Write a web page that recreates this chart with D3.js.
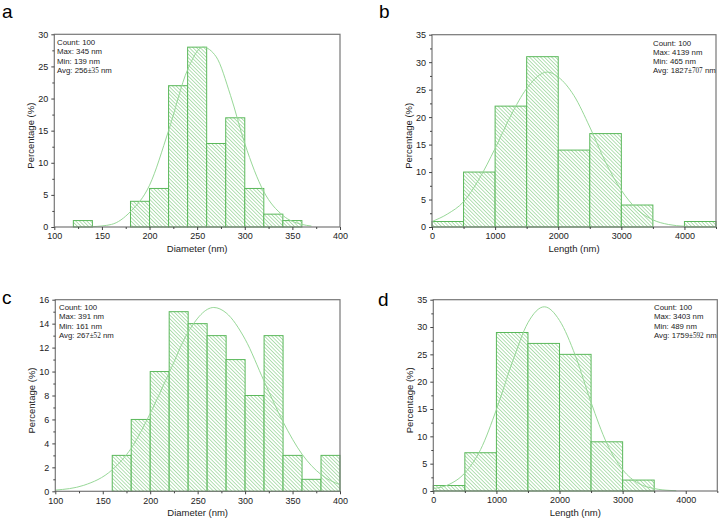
<!DOCTYPE html>
<html>
<head>
<meta charset="utf-8">
<script src="https://cdn.jsdelivr.net/npm/d3@7"></script>
<style>
  body { margin: 0; background: #fff; }
  text { font-family: 'Liberation Sans', Arial, sans-serif; }
</style>
</head>
<body>
<script>
// panel a - diameter
const aBinStart = [120, 140, 160, 180, 200, 220, 240, 260, 280, 300, 320, 340]
const aPct = [1, 0, 0, 4, 6, 22, 28, 13, 17, 6, 2, 1]
const aFitX = [140, 160, 180, 200, 220, 240, 256, 270, 285, 300, 320, 340, 360, 370]
const aFitY = [0.05, 0.4, 2.4, 6.5, 15, 24.5, 28, 26.5, 20.5, 13, 5.5, 1.8, 0.4, 0.15]
const aStats = ['Count: 100', 'Max: 345 nm', 'Min: 139 nm']
const aAvg = ['256', '±35']

// panel b - length
const bBinStart = [0, 500, 1000, 1500, 2000, 2500, 3000, 3500, 4000]
const bPct = [1, 10, 22, 31, 14, 17, 4, 0, 1]
const bFitX = [0, 250, 500, 750, 1000, 1250, 1500, 1827, 2000, 2250, 2500, 2750, 3000, 3250, 3500, 3750, 4000, 4250]
const bFitY = [1.0, 2.4, 4.6, 8.8, 14.3, 20.3, 25.2, 28.2, 27.3, 23.9, 18.2, 11.8, 6.7, 3.2, 1.3, 0.45, 0.13, 0.03]
const bStats = ['Count: 100', 'Max: 4139 nm', 'Min: 465 nm']
const bAvg = ['1827', '±707']

// panel c - diameter
const cBinStart = [160, 180, 200, 220, 240, 260, 280, 300, 320, 340, 360, 380]
const cPct = [3, 6, 10, 15, 14, 13, 11, 8, 13, 3, 1, 3]
const cFitX = [100, 130, 160, 180, 200, 220, 240, 267, 280, 300, 320, 340, 360, 380, 400]
const cFitY = [0.1, 0.5, 1.8, 3.6, 6.5, 9.9, 13.3, 15.35, 14.9, 12.7, 9.2, 5.8, 3.1, 1.4, 0.55]
const cStats = ['Count: 100', 'Max: 391 nm', 'Min: 161 nm']
const cAvg = ['267', '±52']

// panel d - length
const dBinStart = [0, 500, 1000, 1500, 2000, 2500, 3000]
const dPct = [1, 7, 29, 27, 25, 9, 2]
const dFitX = [0, 250, 500, 750, 1000, 1250, 1500, 1759, 2000, 2250, 2500, 2750, 3000, 3250, 3500, 3750, 3850]
const dFitY = [0.45, 1.2, 3.3, 7.6, 14.9, 23.5, 30.8, 33.7, 31.2, 24.8, 16.2, 8.7, 3.9, 1.4, 0.45, 0.1, 0.05]
const dStats = ['Count: 100', 'Max: 3403 nm', 'Min: 489 nm']
const dAvg = ['1759', '±592']

const W = 720, H = 522
const barStroke = '#5ab85a'
const hatchColor = '#9fd89f'
const fitColor = '#98d898'

const svg = d3.select('body')
    .append('svg')
    .attr('width', W)
    .attr('height', H)

// 斜线填充
const pat = svg.append('defs')
    .append('pattern')
    .attr('id', 'hatch')
    .attr('patternUnits', 'userSpaceOnUse')
    .attr('width', 2.6)
    .attr('height', 2.6)
    .attr('patternTransform', 'rotate(-45)')
pat.append('rect').attr('width', 2.6).attr('height', 2.6).attr('fill', '#fff')
pat.append('line')
    .attr('x1', 1.3).attr('y1', 0).attr('x2', 1.3).attr('y2', 2.6)
    .attr('stroke', hatchColor)
    .attr('stroke-width', 0.8)

function drawPanel(p) {
    const g = svg.append('g')
    const x = d3.scaleLinear().domain(p.xDomain).range([p.left, p.right])
    const y = d3.scaleLinear().domain(p.yDomain).range([p.bottom, p.top])

    // 柱子
    const bars = p.binStart.map((s, i) => ({ x0: s, x1: s + p.binW, v: p.pct[i] })).filter(d => d.v > 0)
    g.selectAll('.bar')
        .data(bars)
        .enter()
        .append('rect')
        .attr('class', 'bar')
        .attr('x', d => x(d.x0))
        .attr('y', d => y(d.v))
        .attr('width', d => x(d.x1) - x(d.x0))
        .attr('height', d => y(0) - y(d.v))
        .attr('fill', 'url(#hatch)')
        .attr('stroke', barStroke)
        .attr('stroke-width', 1)

    // 拟合曲线
    const line = d3.line()
        .x(d => x(d[0]))
        .y(d => y(d[1]))
        .curve(d3.curveMonotoneX)
    g.append('path')
        .datum(p.fitX.map((v, i) => [v, p.fitY[i]]))
        .attr('d', line)
        .attr('fill', 'none')
        .attr('stroke', fitColor)
        .attr('stroke-width', 1)

    // 边框
    g.append('rect')
        .attr('x', p.left).attr('y', p.top)
        .attr('width', p.right - p.left).attr('height', p.bottom - p.top)
        .attr('fill', 'none')
        .attr('stroke', '#777')
        .attr('stroke-width', 1.2)

    // 坐标轴
    const xAxis = d3.axisBottom(x).tickValues(p.xTicks).tickSize(3).tickSizeOuter(0).tickPadding(3).tickFormat(d3.format('d'))
    const xMinor = d3.axisBottom(x).tickValues(p.xMinor).tickSize(2).tickFormat('')
    const yAxis = d3.axisLeft(y).tickValues(p.yTicks).tickSize(3).tickSizeOuter(0).tickPadding(3)
    const yMinor = d3.axisLeft(y).tickValues(p.yMinor).tickSize(2).tickFormat('')

    const axes = [
        [xAxis, 'translate(0,' + p.bottom + ')'],
        [xMinor, 'translate(0,' + p.bottom + ')'],
        [yAxis, 'translate(' + p.left + ',0)'],
        [yMinor, 'translate(' + p.left + ',0)']
    ]
    axes.forEach(a => {
        const ag = g.append('g').attr('transform', a[1]).call(a[0])
        ag.select('.domain').remove()
        ag.selectAll('line').attr('stroke', '#444')
        ag.selectAll('text')
            .attr('fill', '#222')
            .attr('font-size', 9)
            .style('font-family', "'Liberation Sans', Arial, sans-serif")
    })

    // 轴标题
    g.append('text')
        .attr('x', (p.left + p.right) / 2)
        .attr('y', p.bottom + 25)
        .attr('text-anchor', 'middle')
        .attr('font-size', 9.5)
        .attr('fill', '#222')
        .text(p.xTitle)
    g.append('text')
        .attr('transform', 'translate(' + (p.left - 20) + ',' + ((p.top + p.bottom) / 2 + 5) + ') rotate(-90)')
        .attr('text-anchor', 'middle')
        .attr('font-size', 9.5)
        .attr('fill', '#222')
        .text('Percentage (%)')

    // 统计文字
    const st = g.append('text')
        .attr('font-size', 7.8)
        .attr('fill', '#222')
    p.stats.forEach((s, i) => {
        st.append('tspan').attr('x', p.statX).attr('y', p.statY + i * 9.3).text(s)
    })
    st.append('tspan').attr('x', p.statX).attr('y', p.statY + 3 * 9.3).text('Avg: ' + p.avg[0])
    st.append('tspan')
        .style('font-family', "'Liberation Serif', serif")
        .attr('font-size', 7.2)
        .text(p.avg[1])
    st.append('tspan').text(' nm')

    // 字母标记
    svg.append('text')
        .attr('x', p.labelX)
        .attr('y', p.labelY)
        .attr('font-size', 19)
        .attr('fill', '#000')
        .text(p.label)
}

drawPanel({
    label: 'a', labelX: 2, labelY: 18,
    left: 54.3, right: 340, top: 34.3, bottom: 227,
    xDomain: [100, 400], yDomain: [0, 30],
    xTicks: d3.range(100, 401, 50), xMinor: d3.range(125, 400, 50),
    yTicks: d3.range(0, 31, 5), yMinor: d3.range(2.5, 30, 5),
    binStart: aBinStart, binW: 20, pct: aPct, fitX: aFitX, fitY: aFitY,
    xTitle: 'Diameter (nm)', stats: aStats, avg: aAvg, statX: 57, statY: 45
})

drawPanel({
    label: 'b', labelX: 379, labelY: 18,
    left: 432, right: 716, top: 34.7, bottom: 227,
    xDomain: [0, 4500], yDomain: [0, 35],
    xTicks: d3.range(0, 4001, 1000), xMinor: d3.range(500, 4501, 1000),
    yTicks: d3.range(0, 36, 5), yMinor: d3.range(2.5, 35, 5),
    binStart: bBinStart, binW: 500, pct: bPct, fitX: bFitX, fitY: bFitY,
    xTitle: 'Length (nm)', stats: bStats, avg: bAvg, statX: 653, statY: 45.5
})

drawPanel({
    label: 'c', labelX: 2, labelY: 304,
    left: 55.3, right: 340, top: 299.7, bottom: 491.3,
    xDomain: [100, 400], yDomain: [0, 16],
    xTicks: d3.range(100, 401, 50), xMinor: d3.range(125, 400, 50),
    yTicks: d3.range(0, 17, 2), yMinor: d3.range(1, 16, 2),
    binStart: cBinStart, binW: 20, pct: cPct, fitX: cFitX, fitY: cFitY,
    xTitle: 'Diameter (nm)', stats: cStats, avg: cAvg, statX: 59, statY: 310
})

drawPanel({
    label: 'd', labelX: 378, labelY: 306,
    left: 433.3, right: 717.3, top: 299.7, bottom: 491,
    xDomain: [0, 4500], yDomain: [0, 35],
    xTicks: d3.range(0, 4001, 1000), xMinor: d3.range(500, 4501, 1000),
    yTicks: d3.range(0, 36, 5), yMinor: d3.range(2.5, 35, 5),
    binStart: dBinStart, binW: 500, pct: dPct, fitX: dFitX, fitY: dFitY,
    xTitle: 'Length (nm)', stats: dStats, avg: dAvg, statX: 654, statY: 310
})
</script>
</body>
</html>
